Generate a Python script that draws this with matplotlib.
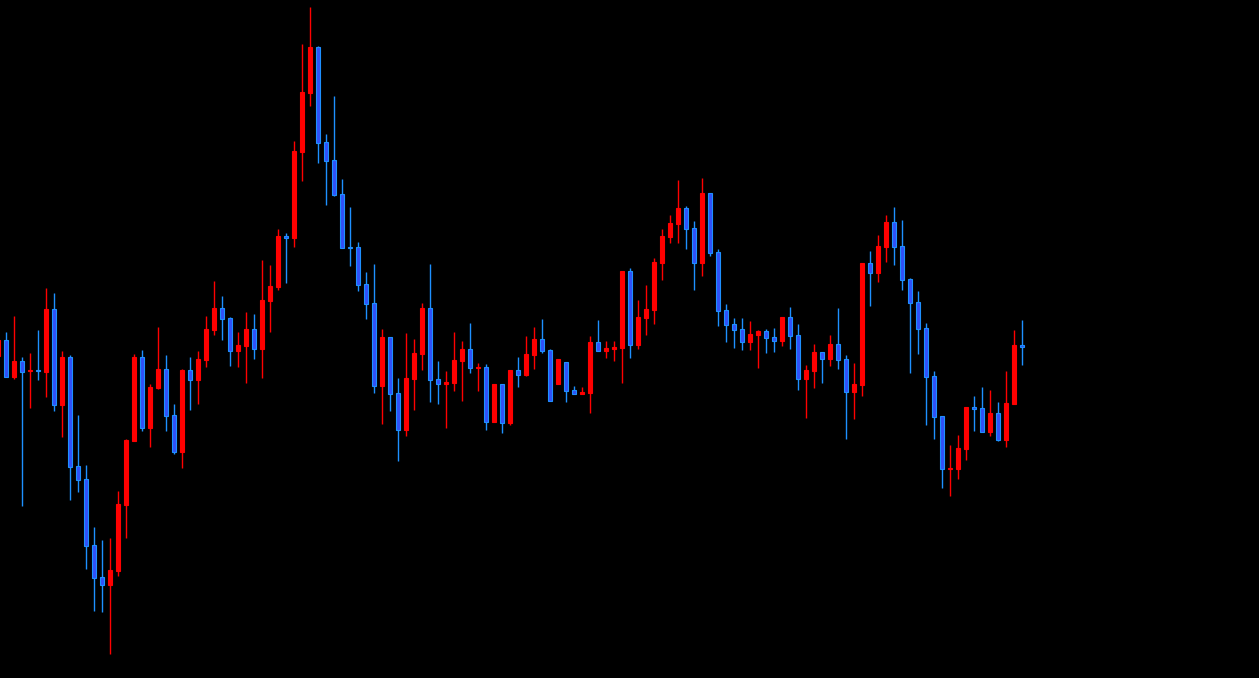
import numpy as np
import matplotlib
matplotlib.use('Agg')
import matplotlib.pyplot as plt

# candle index (-1 is the one cut off at the left edge)
idx = list(range(-1, 128))

opens = [322, 338, 301, 317, 307, 308, 306, 369, 273, 321, 212, 199, 133, 101, 93, 107, 173,
         237, 321, 250, 290, 309, 263, 226, 308, 298, 318, 348, 370, 360, 327, 332, 349, 329,
         377, 391, 442, 440, 526, 585, 631, 536, 518, 484, 431, 431, 394, 375, 292, 341, 285,
         248, 299, 324, 370, 299, 294, 295, 317, 329, 310, 311, 256, 294, 255, 308, 303, 323,
         339, 328, 294, 316, 288, 284, 285, 336, 327, 329, 330, 407, 333, 360, 368, 415, 441,
         454, 470, 450, 415, 485, 426, 368, 354, 349, 336, 343, 347, 341, 337, 361, 343, 299,
         307, 326, 319, 334, 319, 286, 293, 415, 405, 431, 456, 432, 399, 376, 350, 302, 262,
         209, 209, 229, 271, 270, 246, 265, 238, 274, 333]
highs = [338, 346, 362, 321, 325, 348, 390, 385, 327, 323, 263, 213, 151, 138, 140, 187, 239,
         324, 328, 294, 351, 323, 274, 309, 321, 327, 362, 397, 382, 361, 346, 366, 364, 418,
         413, 449, 445, 537, 634, 671, 632, 544, 582, 499, 471, 436, 406, 414, 349, 341, 300,
         345, 339, 375, 414, 317, 307, 346, 337, 355, 315, 314, 294, 294, 308, 321, 342, 351,
         359, 329, 319, 316, 292, 291, 342, 358, 337, 337, 407, 410, 378, 393, 420, 449, 463,
         498, 472, 457, 500, 485, 429, 374, 360, 360, 357, 348, 349, 350, 361, 371, 354, 313,
         334, 326, 343, 370, 323, 315, 415, 427, 443, 463, 471, 458, 400, 387, 355, 307, 262,
         233, 243, 271, 282, 291, 288, 276, 307, 348, 358]
lows = [322, 301, 299, 172, 270, 298, 281, 267, 241, 178, 186, 109, 67, 66, 24, 102, 140,
        237, 247, 231, 289, 247, 224, 210, 268, 274, 311, 343, 338, 312, 311, 295, 319, 300,
        346, 388, 395, 431, 497, 572, 515, 473, 482, 430, 412, 387, 359, 285, 254, 267, 217,
        242, 268, 308, 276, 274, 250, 287, 277, 305, 287, 248, 256, 245, 253, 291, 302, 309,
        325, 277, 294, 276, 284, 284, 265, 327, 320, 317, 295, 320, 329, 343, 354, 398, 435,
        435, 429, 388, 402, 422, 352, 336, 330, 328, 328, 310, 325, 326, 332, 329, 288, 260,
        290, 295, 312, 309, 239, 259, 282, 372, 396, 416, 413, 388, 305, 324, 253, 239, 190,
        182, 199, 218, 247, 246, 242, 237, 231, 274, 313]
closes = [338, 301, 317, 306, 308, 307, 369, 273, 321, 211, 198, 132, 100, 93, 108, 174, 238,
          321, 250, 291, 309, 262, 226, 308, 298, 319, 349, 370, 359, 327, 333, 349, 329, 378,
          392, 442, 440, 527, 586, 631, 535, 517, 483, 430, 430, 393, 374, 292, 341, 284, 248,
          300, 325, 370, 298, 294, 296, 318, 329, 310, 311, 256, 294, 255, 308, 303, 324, 339,
          327, 277, 319, 287, 284, 286, 336, 327, 330, 331, 407, 333, 361, 369, 416, 442, 455,
          470, 449, 415, 485, 425, 367, 353, 348, 336, 344, 347, 340, 337, 361, 342, 299, 308,
          326, 319, 334, 318, 286, 294, 415, 405, 432, 456, 431, 398, 375, 349, 301, 261, 209,
          210, 230, 271, 269, 246, 265, 238, 275, 333, 331]

fig = plt.figure(figsize=(12.59, 6.78), dpi=100, facecolor='black')
ax = fig.add_axes([0, 0, 1, 1])
ax.set_facecolor('black')

up_col = '#ff0000'
dn_face = '#3050f8'
dn_edge = '#1e90ff'

for i in range(len(idx)):
    x = idx[i]
    o, h, l, c = opens[i], highs[i], lows[i], closes[i]
    if c >= o:
        wick, face, edge = up_col, up_col, up_col
    else:
        wick, face, edge = dn_edge, dn_face, dn_edge
    ax.vlines(x, l, h, color=wick, linewidth=1.0)
    ax.bar(x, abs(c - o), bottom=min(o, c), width=0.5,
           color=face, edgecolor=edge, linewidth=0.8, zorder=3)

ax.set_xlim(-6.3 / 8, (1259 - 6.3) / 8)
ax.set_ylim(0, 678)
ax.axis('off')

fig.savefig('out.png', dpi=100, facecolor='black')
